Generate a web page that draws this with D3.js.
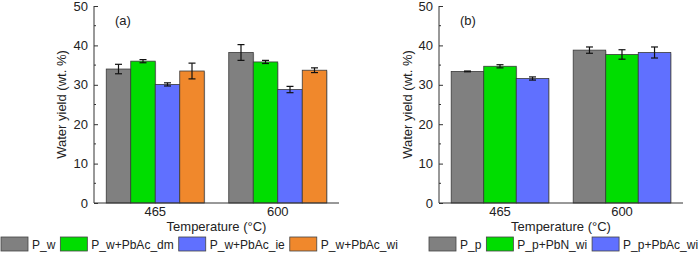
<!DOCTYPE html>
<html><head><meta charset="utf-8">
<script src="https://cdn.jsdelivr.net/npm/d3@7"></script>
<style>body{margin:0;background:#fff}svg{display:block;font-family:"Liberation Sans",Arial,sans-serif}</style>
</head><body><svg id="c" width="700" height="253"></svg>
<script>
const temps = ["465", "600"];
const yTicks = [0, 10, 20, 30, 40, 50];

const seriesA = ["P_w", "P_w+PbAc_dm", "P_w+PbAc_ie", "P_w+PbAc_wi"];
const valuesA = [[34.0, 38.2], [36.0, 35.8], [30.1, 28.8], [33.5, 33.7]];
const errorsA = [[1.2, 2.0], [0.4, 0.4], [0.4, 0.8], [2.0, 0.6]];
const colorsA = ["#808080", "#00DD00", "#6070FF", "#F0882C"];

const seriesB = ["P_p", "P_p+PbN_wi", "P_p+PbAc_wi"];
const valuesB = [[33.4, 38.8], [34.7, 37.7], [31.6, 38.2]];
const errorsB = [[0.1, 0.8], [0.4, 1.2], [0.4, 1.4]];
const colorsB = ["#808080", "#00DD00", "#6070FF"];

const svg = d3.select("#c");
const FONT = "Liberation Sans, Arial, sans-serif";

function panel(opt) {
  const {x0, x1, y0, y1, series, values, errors, colors, label, titleX, legendX} = opt;
  const g = svg.append("g");
  const x = d3.scaleBand().domain(temps).range([x0, x1]).paddingInner(0.2).paddingOuter(0.1);
  const xs = d3.scaleBand().domain(series).range([0, x.bandwidth()]);
  const y = d3.scaleLinear().domain([0, 50]).range([y0, y1]);

  // bars
  series.forEach((s, i) => {
    temps.forEach((t, j) => {
      const bx = x(t) + xs(s), v = values[i][j], e = errors[i][j];
      g.append("rect").attr("x", bx + 1).attr("y", y(v) + 1).attr("width", xs.bandwidth()).attr("height", y(0) - y(v) - 1)
        .attr("fill", "#d8d8d8");
      g.append("rect").attr("x", bx).attr("y", y(v)).attr("width", xs.bandwidth()).attr("height", y(0) - y(v))
        .attr("fill", colors[i]).attr("stroke", "#3a3a3a").attr("stroke-width", 0.8);
      const cx = bx + xs.bandwidth() / 2;
      g.append("line").attr("x1", cx).attr("x2", cx).attr("y1", y(v + e)).attr("y2", y(v - e)).attr("stroke", "#111").attr("stroke-width", 1.2);
      [v + e, v - e].forEach(q => g.append("line").attr("x1", cx - 3.5).attr("x2", cx + 3.5).attr("y1", y(q)).attr("y2", y(q)).attr("stroke", "#111").attr("stroke-width", 1.2));
    });
  });

  // y axis
  const ya = d3.axisLeft(y).tickValues(yTicks).tickSize(-4).tickPadding(6);
  const yg = g.append("g").attr("transform", `translate(${x0},0)`).call(ya);
  yg.select(".domain").attr("stroke", "#333").attr("d", `M0,${y0}V${y1}`);
  yg.selectAll(".tick line").attr("stroke", "#333");
  yg.selectAll("text").attr("font-size", 13).attr("fill", "#222").attr("font-family", FONT);
  d3.range(5, 50, 10).forEach(v => g.append("line").attr("x1", x0).attr("x2", x0 + 2).attr("y1", y(v)).attr("y2", y(v)).attr("stroke", "#333"));

  // x axis
  const xa = d3.axisBottom(x).tickSize(0).tickPadding(4);
  const xg = g.append("g").attr("transform", `translate(0,${y0})`).call(xa);
  xg.select(".domain").attr("stroke", "#333").attr("d", `M${x0},0H${x1}`);
  xg.selectAll("text").attr("font-size", 13).attr("fill", "#222").attr("font-family", FONT);

  g.append("text").attr("x", (x0 + x1) / 2).attr("y", 231).attr("text-anchor", "middle").attr("font-size", 13).attr("fill", "#222").text("Temperature (°C)");
  g.append("text").attr("transform", `translate(${titleX},${(y0 + y1) / 2}) rotate(-90)`).attr("text-anchor", "middle").attr("dy", "0.35em")
    .attr("font-size", 13).attr("fill", "#222").text("Water yield (wt. %)");
  g.append("text").attr("x", x0 + 21).attr("y", 25).attr("font-size", 13).attr("fill", "#222").text(label);

  // legend
  let lx = legendX;
  series.forEach((s, i) => {
    g.append("rect").attr("x", lx).attr("y", 237).attr("width", 27).attr("height", 14).attr("fill", colors[i]).attr("stroke", "#444").attr("stroke-width", 0.8);
    const t = g.append("text").attr("x", lx + 31).attr("y", 248.5).attr("font-size", 12).attr("fill", "#222").text(s);
    lx += 31 + t.node().getComputedTextLength() + 5;
  });
}

panel({x0: 94, x1: 339, y0: 203, y1: 6, series: seriesA, values: valuesA, errors: errorsA, colors: colorsA, label: "(a)", titleX: 61, legendX: 1});
panel({x0: 439, x1: 683, y0: 203, y1: 6, series: seriesB, values: valuesB, errors: errorsB, colors: colorsB, label: "(b)", titleX: 407, legendX: 429});
</script></body></html>
